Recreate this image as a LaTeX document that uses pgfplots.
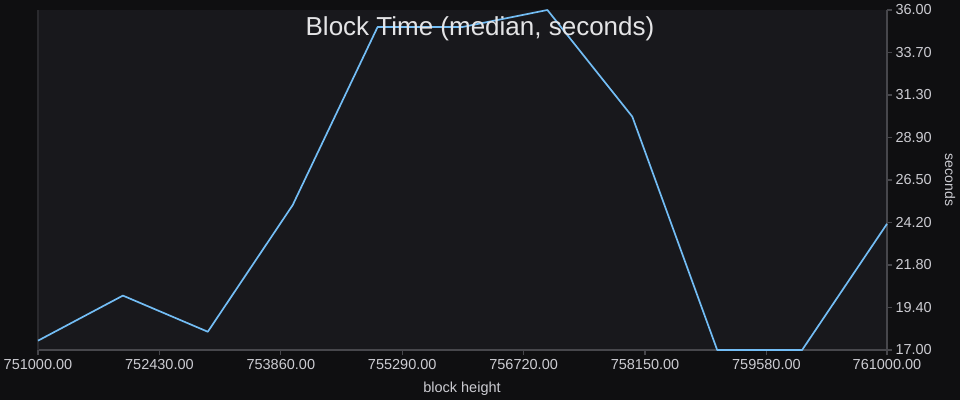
\documentclass[border=0pt]{standalone}
\usepackage{pgfplots}
\pgfplotsset{compat=1.18}
\usepackage{fontspec}
\setmainfont{Liberation Sans}
\definecolor{outerbg}{HTML}{0F0F11}
\definecolor{plotbg}{HTML}{18181C}
\definecolor{axisgray}{HTML}{47474C}
\definecolor{leftgray}{HTML}{2A2A2E}
\definecolor{ticktext}{HTML}{CCCCD2}
\definecolor{titletext}{HTML}{E4E4E6}
\definecolor{lineblue}{HTML}{73BDF5}
\begin{document}
\begin{tikzpicture}
\fill[outerbg] (0,0) rectangle (960bp,400bp);
\useasboundingbox (0,0) rectangle (960bp,400bp);
\begin{axis}[
  at={(38bp,50bp)}, anchor=south west,
  scale only axis, width=849bp, height=340bp,
  xmin=751000, xmax=761000, ymin=17, ymax=36,
  axis background/.style={fill=plotbg},
  axis x line*=bottom, axis y line*=right,
  axis line style={draw=axisgray, line width=1.2bp, -},
  tick style={draw=axisgray, line width=1.2bp},
  tick align=outside, major tick length=5bp,
  xtick={751000,752430,753860,755290,756720,758150,759580,761000},
  xticklabels={751000.00,752430.00,753860.00,755290.00,756720.00,758150.00,759580.00,761000.00},
  ytick={17,19.375,21.75,24.125,26.5,28.875,31.25,33.625,36},
  yticklabels={17.00,19.40,21.80,24.20,26.50,28.90,31.30,33.70,36.00},
  scaled x ticks=false, scaled y ticks=false,
  ticklabel style={font=\fontsize{14.5bp}{17bp}\selectfont, text=ticktext},
  xticklabel style={yshift=-1bp},
  yticklabel style={anchor=west, xshift=0bp},
  grid=none,
  clip=false,
]
\draw[leftgray, line width=1.5bp] (rel axis cs:0,0) -- (rel axis cs:0,1);
\addplot[lineblue, line width=1.7bp, line join=round] coordinates {
  (751000,17.52) (752000,20.04) (753000,18.02) (754000,25.1)
  (755000,35.05) (756000,35.05) (757000,36.0) (758000,30.04)
  (759000,17.0) (760000,17.0) (761000,24.05)
};
\end{axis}
\node[text=titletext, font=\fontsize{26bp}{30bp}\selectfont] at (480bp,371bp) {Block Time (median, seconds)};
\node[text=ticktext, font=\fontsize{14.5bp}{17bp}\selectfont] at (462bp,11bp) {block height};
\node[text=ticktext, font=\fontsize{14bp}{17bp}\selectfont, rotate=-90] at (950bp,220bp) {seconds};
\end{tikzpicture}
\end{document}
